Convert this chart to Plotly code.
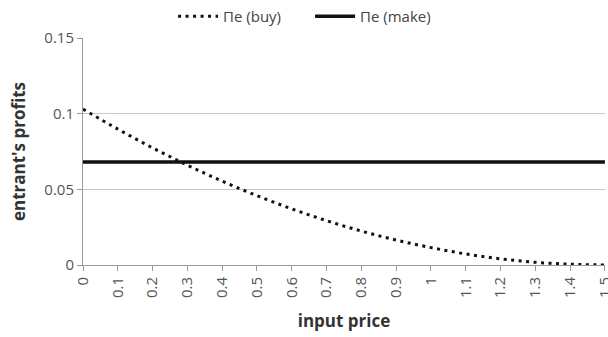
import plotly.graph_objects as go

input_price = [0, 0.1, 0.2, 0.3, 0.4, 0.5, 0.6, 0.7, 0.8, 0.9, 1.0, 1.1, 1.2, 1.3, 1.4, 1.5]
profit_buy = [0.103, 0.0898, 0.0774, 0.066, 0.0554, 0.0458, 0.0371, 0.0293, 0.0224,
              0.0165, 0.0115, 0.0073, 0.0041, 0.0018, 0.0005, 0.0]
profit_make = [0.068] * len(input_price)
x_tick_labels = ["0", "0.1", "0.2", "0.3", "0.4", "0.5", "0.6", "0.7", "0.8", "0.9",
                 "1", "1.1", "1.2", "1.3", "1.4", "1.5"]
y_tick_vals = [0, 0.05, 0.1, 0.15]
y_tick_labels = ["0", "0.05", "0.1", "0.15"]

font_family = "Open Sans, Lato, sans-serif"

fig = go.Figure()
fig.add_trace(go.Scatter(
    x=input_price, y=profit_buy, mode="lines", name="Πe (buy)",
    line=dict(color="#111111", width=3, dash="3px,4.5px", shape="spline"),
))
fig.add_trace(go.Scatter(
    x=input_price, y=profit_make, mode="lines", name="Πe (make)",
    line=dict(color="#111111", width=3.5),
))

fig.update_layout(
    width=608, height=337,
    margin=dict(l=83, r=3, t=38, b=72, autoexpand=False),
    paper_bgcolor="white", plot_bgcolor="white",
    font=dict(family=font_family, size=15, color="#555555"),
    legend=dict(orientation="h", x=0.435, xanchor="center", y=1.0, yanchor="top",
                yref="container", font=dict(size=15, color="#444444"),
                entrywidth=82, entrywidthmode="pixels", itemwidth=40, tracegroupgap=0),
    showlegend=True,
)

fig.update_xaxes(
    range=[0, 1.5002], tickmode="array", tickvals=input_price, ticktext=x_tick_labels,
    tickangle=-90, ticks="outside", ticklen=5, tickcolor="#999999",
    showline=True, linecolor="#999999", linewidth=1, showgrid=False, zeroline=False,
    tickfont=dict(size=15, color="#555555"), automargin=False, ticklabeloverflow="allow",
    title=dict(text="<b>input price</b>", font=dict(size=17, color="#333333"), standoff=18),
)
fig.update_yaxes(
    range=[0, 0.15], tickmode="array", tickvals=y_tick_vals, ticktext=y_tick_labels,
    ticks="outside", ticklen=5, tickcolor="#999999",
    showline=True, linecolor="#999999", linewidth=1,
    showgrid=True, gridcolor="#c8c8c8", gridwidth=1, zeroline=False,
    tickfont=dict(size=15, color="#555555"), automargin=False,
    title=dict(text="<b>entrant's profits</b>", font=dict(size=17, color="#333333"), standoff=14),
)

fig.write_html("out.html", post_script="document.body.style.margin='0';",
               config={"displayModeBar": False})
